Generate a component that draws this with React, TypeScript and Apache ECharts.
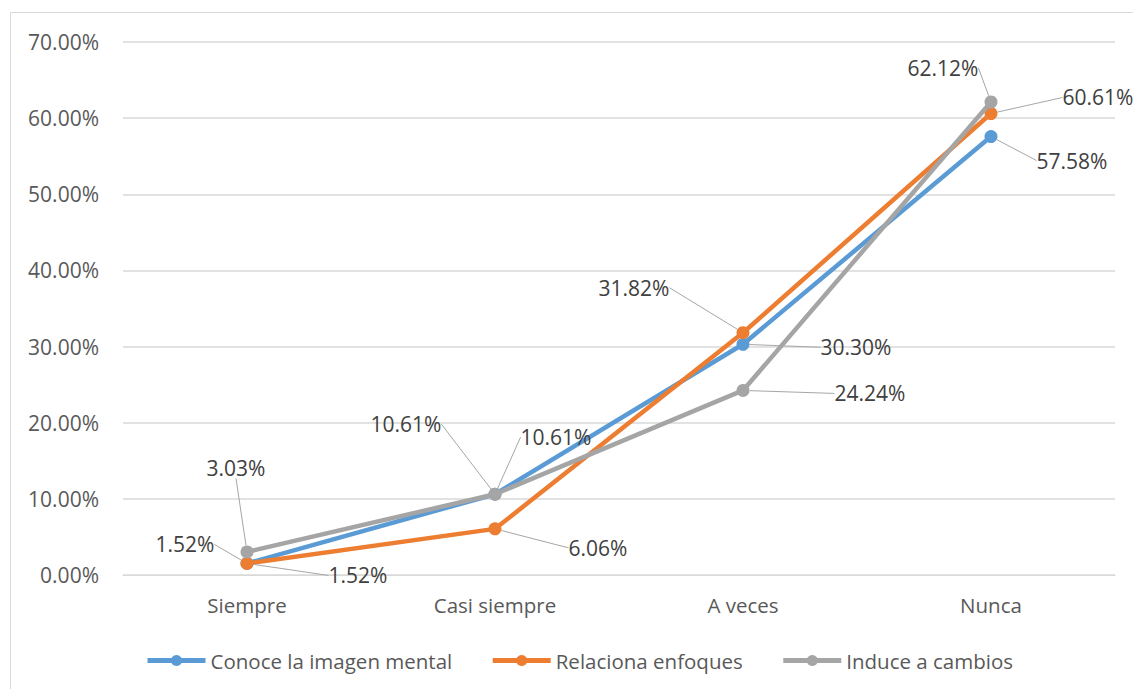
import React, { useEffect, useRef } from "react";
import * as echarts from "echarts";

const categories = ["Siempre", "Casi siempre", "A veces", "Nunca"];
const seriesNames = ["Conoce la imagen mental", "Relaciona enfoques", "Induce a cambios"];
const conoce = [1.52, 10.61, 30.3, 57.58];
const relaciona = [1.52, 6.06, 31.82, 60.61];
const induce = [3.03, 10.61, 24.24, 62.12];
const yTicks = { min: 0, max: 70, interval: 10 };

const colors = ["#5B9BD5", "#ED7D31", "#A5A5A5"];

// label offsets (dx, dy) from each point, per series
const labelOffsets: number[][][] = [
  [[-62, -19], [-89, -70], [113, 3], [81, 24]],
  [[111, 12], [103, 19], [-109, -45], [107, -16]],
  [[-11, -84], [61, -57], [127, 3], [-48, -34]],
];

const FONT = "Open Sans";

export default function App() {
  const ref = useRef<HTMLDivElement>(null);
  useEffect(() => {
    if (!ref.current) return;
    const chart = echarts.init(ref.current, undefined, { renderer: "svg" });
    const values = [conoce, relaciona, induce];
    const series = values.map((data, si) => ({
      type: "line",
      name: seriesNames[si],
      data,
      color: colors[si],
      symbol: "circle",
      symbolSize: 13,
      lineStyle: { width: 4.5, color: colors[si] },
      itemStyle: { color: colors[si] },
      z: 2 + si,
      label: {
        show: true,
        position: "inside",
        formatter: (p: any) => p.value.toFixed(2) + "%",
        color: "#404040",
        fontSize: 21,
        fontFamily: FONT,
      },
      labelLine: {
        show: true,
        lineStyle: { color: "#A6A6A6", width: 1 },
      },
      labelLayout: (p: any) => {
        const o = labelOffsets[si][p.dataIndex];
        return { dx: o[0], dy: o[1] };
      },
    }));
    chart.setOption({
      animation: false,
      backgroundColor: "#ffffff",
      textStyle: { fontFamily: FONT },
      graphic: [
        {
          type: "rect",
          shape: { x: 10.5, y: 12.5, width: 1300, height: 900 },
          style: { fill: "none", stroke: "#D9D9D9", lineWidth: 1 },
          silent: true,
          z: 0,
        },
      ],
      grid: { left: 123, right: 18, top: 42, bottom: 114 },
      legend: {
        left: 140,
        top: 645,
        itemWidth: 58,
        itemHeight: 14,
        itemGap: 38,
        lineStyle: { width: 5 },
        textStyle: { color: "#595959", fontSize: 20.5, fontFamily: FONT },
        data: seriesNames,
      },
      xAxis: {
        type: "category",
        data: categories,
        boundaryGap: true,
        axisLine: { lineStyle: { color: "#D9D9D9", width: 1 } },
        axisTick: { show: false },
        axisLabel: { color: "#595959", fontSize: 20.5, fontFamily: FONT, margin: 19 },
      },
      yAxis: {
        type: "value",
        min: yTicks.min,
        max: yTicks.max,
        interval: yTicks.interval,
        axisLine: { show: false },
        axisTick: { show: false },
        splitLine: { lineStyle: { color: "#D9D9D9", width: 1.5 } },
        axisLabel: {
          color: "#595959",
          fontSize: 21,
          fontFamily: FONT,
          margin: 24,
          formatter: (v: number) => v.toFixed(2) + "%",
        },
      },
      series,
    });
    return () => chart.dispose();
  }, []);
  return <div ref={ref} style={{ width: 1133, height: 689, position: "absolute", left: 0, top: 0 }} />;
}
